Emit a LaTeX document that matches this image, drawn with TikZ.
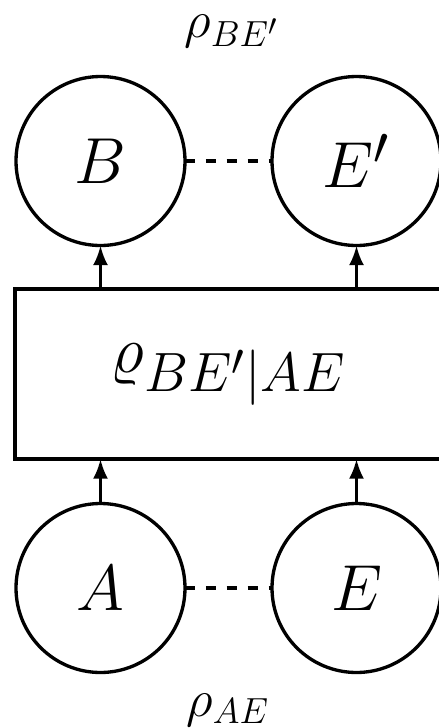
\RequirePackage{fix-cm}
\documentclass[tikz,border=0pt]{standalone}
\usetikzlibrary{arrows.meta}
\DeclareMathSizes{22}{22}{18.3}{15}
\DeclareMathSizes{21.5}{21.5}{17.9}{14.4}
\begin{document}
\begin{tikzpicture}[x=0.3305pt,y=-0.3305pt,
  every node/.style={inner sep=0pt,outer sep=0pt},
  state/.style={circle,draw,line width=1.1pt,minimum size=55.85pt,font=\fontsize{21.5}{25}\selectfont},
  box/.style={rectangle,draw,line width=1.1pt,minimum width=141.12pt,minimum height=56.19pt},
  arr/.style={line width=1.1pt,-{Latex[length=6.5pt,width=5pt]}},
  corr/.style={line width=1.1pt,dash pattern=on 3.3pt off 3.6pt},
  lbl/.style={font=\LARGE,anchor=base}]
\useasboundingbox (0,0) rectangle (439,728);
\node[state] (B) at (100.5,161) {$B$};
\node[state] (Ep) at (356.5,161) {$E'$};
\node[state] (A) at (100.5,588) {$A$};
\node[state] (E) at (356.5,588) {$E$};
\node[box] (R) at (228.5,374) {};
\node[font=\fontsize{22}{26}\selectfont,anchor=base] (RT) at (228.5,372.5) {$\varrho_{BE'|AE}$};
\node[lbl] (LT) at (232,37) {$\rho_{BE'}$};
\node[lbl] (LB) at (228,716) {$\rho_{AE}$};
\draw[corr] (B.east) -- (Ep.west);
\draw[corr] (A.east) -- (E.west);
\draw[arr] (B |- R.north) -- (B.south);
\draw[arr] (Ep |- R.north) -- (Ep.south);
\draw[arr] (A.north) -- (A |- R.south);
\draw[arr] (E.north) -- (E |- R.south);
\end{tikzpicture}
\end{document}
